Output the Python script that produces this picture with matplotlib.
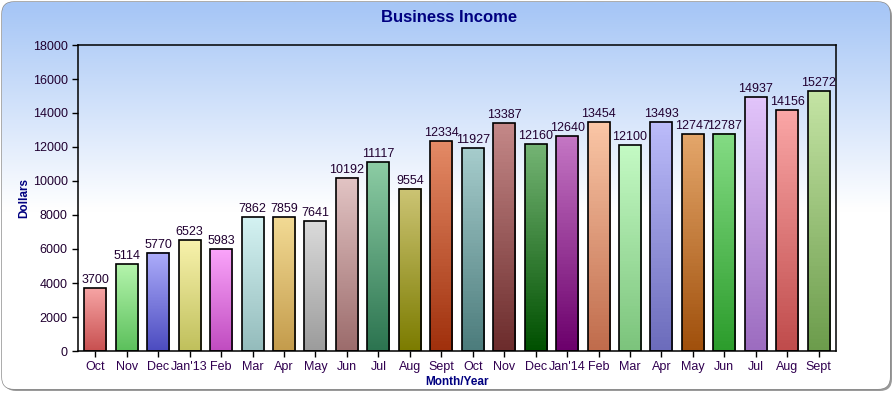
import numpy as np
import matplotlib
matplotlib.use("Agg")
import matplotlib.pyplot as plt
from matplotlib.patches import FancyBboxPatch, Rectangle
from matplotlib.colors import to_rgb

plt.rcParams['font.family'] = ['Liberation Sans', 'DejaVu Sans']

months = ["Oct", "Nov", "Dec", "Jan'13", "Feb", "Mar", "Apr", "May", "Jun", "Jul", "Aug", "Sept",
          "Oct", "Nov", "Dec", "Jan'14", "Feb", "Mar", "Apr", "May", "Jun", "Jul", "Aug", "Sept"]
income = [3700, 5114, 5770, 6523, 5983, 7862, 7859, 7641, 10192, 11117, 9554, 12334,
          11927, 13387, 12160, 12640, 13454, 12100, 13493, 12747, 12787, 14937, 14156, 15272]
top_colors = ["#f6a4a4", "#b4f4ac", "#acacfa", "#f8f2ac", "#faa4fa", "#d4f2f2", "#f2da94", "#dadada",
              "#e2c4c4", "#8ccca4", "#ccc474", "#e48a66", "#a6cccc", "#c48888", "#74b474", "#c476c4",
              "#fac6a6", "#c4fac4", "#bcbcfa", "#e4a66a", "#84dc84", "#e2c4fa", "#faa6a6", "#c4e4a4"]
bottom_colors = ["#c85050", "#5cc05c", "#4c4cc0", "#c0c05c", "#c04cc0", "#94bcbc", "#c49c4c", "#9c9c9c",
                 "#9c6c6c", "#2c7450", "#7c7c00", "#a0300c", "#4c7c7c", "#6c2c2c", "#005000", "#6c006c",
                 "#c06c4c", "#7cc47c", "#6c6cbc", "#a0500c", "#2c9c2c", "#9c6cc0", "#c04c4c", "#6c9c4c"]

W, H = 894, 394
fig = plt.figure(figsize=(W / 100, H / 100), dpi=100)
fig.patch.set_facecolor('white')

# background frame
bg = fig.add_axes([0, 0, 1, 1], zorder=0)
bg.set_xlim(0, W)
bg.set_ylim(H, 0)
bg.axis('off')
shadow = FancyBboxPatch((4, 4), W - 6, H - 7, boxstyle="round,pad=0,rounding_size=12",
                        facecolor='#9a9a9a', edgecolor='none')
bg.add_patch(shadow)
frame = FancyBboxPatch((2, 2), W - 6, H - 7, boxstyle="round,pad=0,rounding_size=12",
                       facecolor='white', edgecolor='#8a8a8a', linewidth=1)
bg.add_patch(frame)
ys = np.linspace(0, H, 200)
c_top = np.array(to_rgb('#a6c6f6'))
c_bot = np.array([1.0, 1.0, 1.0])
t = np.clip((ys - 5) / 205.0, 0, 1)[:, None]
grad = (c_top * (1 - t) + c_bot * t)[:, None, :]
im = bg.imshow(grad, extent=[0, W, H, 0], aspect='auto', zorder=1)
im.set_clip_path(frame)
bg.set_xlim(0, W)
bg.set_ylim(H, 0)

ax = fig.add_axes([78 / W, 1 - 351 / H, (836 - 78) / W, (351 - 45) / H], zorder=2)
ax.patch.set_alpha(0)

x = np.arange(len(months))
bw = 0.7
for i, (v, ct, cb) in enumerate(zip(income, top_colors, bottom_colors)):
    a = np.array(to_rgb(ct))
    b = np.array(to_rgb(cb))
    s = np.linspace(0, 1, 64)[:, None]
    g = (a * (1 - s) + b * s)[:, None, :]
    x0 = x[i] - bw / 2
    ax.imshow(g, extent=[x0, x0 + bw, 0, v], aspect='auto', origin='upper', zorder=2)
    ax.add_patch(Rectangle((x0, 0), bw, v, facecolor='none', edgecolor='black', linewidth=1.2, zorder=3))
    ax.text(x[i], v + 120, str(v), ha='center', va='bottom', fontsize=9, color='#200030', zorder=4)

ax.set_xlim(-0.55, len(months) - 0.45)
ax.set_ylim(0, 18000)
ax.set_yticks(np.arange(0, 18001, 2000))
ax.set_xticks(x)
ax.set_xticklabels(months)
ax.tick_params(axis='both', direction='out', length=4, width=1, labelsize=9, colors='black')
for lab in ax.get_xticklabels():
    lab.set_color('#300050')
for lab in ax.get_yticklabels():
    lab.set_color('#200030')
for sp in ax.spines.values():
    sp.set_color('black')
    sp.set_linewidth(1.1)

ax.set_ylabel('Dollars', fontsize=8.5, fontweight='bold', color='#000080', labelpad=2)
ax.set_xlabel('Month/Year', fontsize=8.5, fontweight='bold', color='#000080', labelpad=2)
fig.text(449 / W, 1 - 18 / H, 'Business Income', ha='center', va='center',
         fontsize=12, fontweight='bold', color='#000080')

fig.savefig('out.png', dpi=100)
